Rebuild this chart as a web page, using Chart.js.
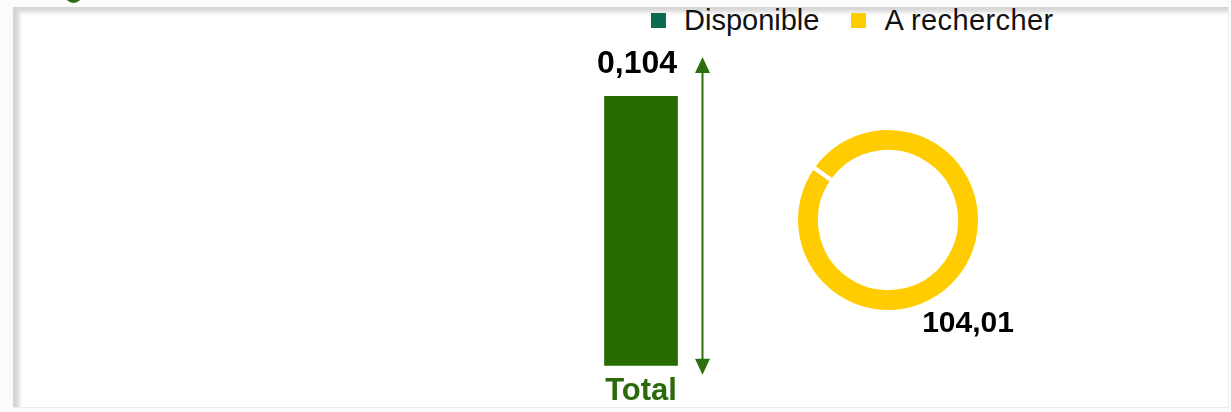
<!DOCTYPE html>
<html>
<head>
<meta charset="utf-8">
<script src="https://cdn.jsdelivr.net/npm/chart.js@4"></script>
<style>
  html, body { margin: 0; padding: 0; }
  body { width: 1231px; height: 412px; background: #fbfbfb; position: relative; overflow: hidden; font-family: "Liberation Sans", Arial, sans-serif; }
  .panel { position: absolute; left: 13px; top: 7px; width: 1215px; height: 400px; background: #fff;
    border-right: 1px solid #ececec; border-bottom: 1px solid #ececec;
    box-shadow: inset 7px 6px 4px -1px rgba(0,0,0,0.17); }
  .blob { position: absolute; left: 65px; top: -14px; width: 17px; height: 17px; border-radius: 50%; background: #2b6d12; }
  #legend { position: absolute; left: 651px; top: 4px; display: flex; align-items: center; font-size: 29px; color: #111; }
  #legend .item { display: flex; align-items: center; margin-right: 32px; }
  #legend .box { width: 15px; height: 15px; margin-right: 18px; }
  #legend .item:last-child span:last-child { letter-spacing: 0.4px; }
  canvas { position: absolute; }
  #bar { left: 541px; top: 30px; }
  #ring { left: 738px; top: 70px; }
</style>
</head>
<body>
<div class="panel"></div>
<div class="blob"></div>
<div id="legend"></div>
<canvas id="bar" width="200" height="391"></canvas>
<canvas id="ring" width="300" height="300"></canvas>
<script>
const barLabels = ['Total'];
const barValues = [0.104];
const ringLabels = ['Disponible', 'A rechercher'];
const ringValues = [0.104, 104.01];
const ringColors = ['#0b6a4f', '#ffcc00'];

const fmt = v => v.toLocaleString('fr-FR');
const green = '#276a00';
const arrowGreen = '#2c6e0c';

// legende en HTML
const legend = document.getElementById('legend');
ringLabels.forEach((lab, i) => {
    const item = document.createElement('div');
    item.className = 'item';
    item.innerHTML = `<span class="box" style="background:${ringColors[i]}"></span><span>${lab}</span>`;
    legend.appendChild(item);
});

const barDecor = {
    id: 'barDecor',
    afterDatasetsDraw(chart) {
        const ctx = chart.ctx;
        const area = chart.chartArea;
        const bar = chart.getDatasetMeta(0).data[0];
        // valeur au-dessus de la barre
        ctx.save();
        ctx.fillStyle = '#000';
        ctx.font = 'bold 32px "Liberation Sans", Arial';
        ctx.textAlign = 'center';
        ctx.textBaseline = 'alphabetic';
        ctx.fillText(fmt(barValues[0]), bar.x - 4, bar.y - 23);
        // double fleche
        const x = bar.x + bar.width / 2 + 25;
        const top = area.top - 39;
        const bottom = area.bottom + 9;
        ctx.strokeStyle = arrowGreen;
        ctx.fillStyle = arrowGreen;
        ctx.lineWidth = 2;
        ctx.beginPath();
        ctx.moveTo(x, top + 10);
        ctx.lineTo(x, bottom - 10);
        ctx.stroke();
        ctx.beginPath();
        ctx.moveTo(x, top);
        ctx.lineTo(x - 7.5, top + 16);
        ctx.lineTo(x + 7.5, top + 16);
        ctx.closePath();
        ctx.fill();
        ctx.beginPath();
        ctx.moveTo(x, bottom);
        ctx.lineTo(x - 7.5, bottom - 16);
        ctx.lineTo(x + 7.5, bottom - 16);
        ctx.closePath();
        ctx.fill();
        ctx.restore();
    }
};

new Chart(document.getElementById('bar'), {
    type: 'bar',
    data: {
        labels: barLabels,
        datasets: [{
            data: barValues,
            backgroundColor: green,
            barThickness: 73
        }]
    },
    options: {
        responsive: false,
        animation: false,
        layout: { padding: { top: 66, bottom: 4, left: 0, right: 0 } },
        plugins: { legend: { display: false }, tooltip: { enabled: false } },
        scales: {
            x: {
                grid: { display: false, drawTicks: false },
                border: { display: false },
                ticks: {
                    color: '#2b6a0a',
                    padding: 7,
                    font: { family: '"Liberation Sans", Arial', size: 31, weight: 'bold' }
                }
            },
            y: { display: false, min: 0, max: Math.max(...barValues) }
        }
    },
    plugins: [barDecor]
});

const ringLabel = {
    id: 'ringLabel',
    afterDatasetsDraw(chart) {
        const arc = chart.getDatasetMeta(0).data[1];
        const ctx = chart.ctx;
        ctx.save();
        ctx.fillStyle = '#000';
        ctx.font = 'bold 30px "Liberation Sans", Arial';
        ctx.textAlign = 'center';
        ctx.textBaseline = 'alphabetic';
        ctx.fillText(fmt(ringValues[1]), arc.x + arc.outerRadius * 0.87, arc.y + arc.outerRadius * 1.22);
        ctx.restore();
    }
};

new Chart(document.getElementById('ring'), {
    type: 'doughnut',
    data: {
        labels: ringLabels,
        datasets: [{
            data: ringValues,
            backgroundColor: ringColors,
            borderColor: '#ffffff',
            borderWidth: 4
        }]
    },
    options: {
        responsive: false,
        animation: false,
        rotation: 305,
        cutout: '74%',
        layout: { padding: 56 },
        plugins: { legend: { display: false }, tooltip: { enabled: false } }
    },
    plugins: [ringLabel]
});
</script>
</body>
</html>
